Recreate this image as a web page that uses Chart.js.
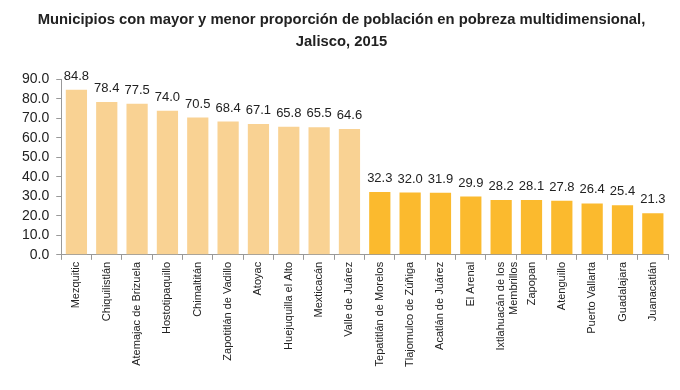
<!DOCTYPE html>
<html>
<head>
<meta charset="utf-8">
<script src="https://cdn.jsdelivr.net/npm/chart.js@4"></script>
<style>
  html, body { margin: 0; padding: 0; background: #fff; }
  #wrap { width: 680px; height: 390px; }
</style>
</head>
<body>
<div id="wrap"><canvas id="chart"></canvas></div>
<script>
// Municipalities with highest poverty share
const highNames = ['Mezquitic', 'Chiquilistlán', 'Atemajac de Brizuela', 'Hostotipaquillo', 'Chimaltitán',
    'Zapotitlán de Vadillo', 'Atoyac', 'Huejuquilla el Alto', 'Mexticacán', 'Valle de Juárez'];
const highValues = [84.8, 78.4, 77.5, 74.0, 70.5, 68.4, 67.1, 65.8, 65.5, 64.6];

// Municipalities with lowest poverty share
const lowNames = ['Tepatitlán de Morelos', 'Tlajomulco de Zúñiga', 'Acatlán de Juárez', 'El Arenal',
    ['Ixtlahuacán de los', 'Membrillos'], 'Zapopan', 'Atenguillo', 'Puerto Vallarta', 'Guadalajara', 'Juanacatlán'];
const lowValues = [32.3, 32.0, 31.9, 29.9, 28.2, 28.1, 27.8, 26.4, 25.4, 21.3];

const yTicks = [0, 10, 20, 30, 40, 50, 60, 70, 80, 90];

const highColor = '#F9D293';
const lowColor = '#FBBA2E';

const labels = highNames.concat(lowNames);
const values = highValues.concat(lowValues);
const colors = labels.map((l, i) => i < highNames.length ? highColor : lowColor);

// draws the value above each bar
const valueLabels = {
    id: 'valueLabels',
    afterDatasetsDraw(chart) {
        const ctx = chart.ctx;
        const meta = chart.getDatasetMeta(0);
        ctx.save();
        ctx.font = '13px "Liberation Sans", Arial, sans-serif';
        ctx.fillStyle = '#222';
        ctx.textAlign = 'center';
        ctx.textBaseline = 'bottom';
        meta.data.forEach((bar, i) => {
            ctx.fillText(values[i].toFixed(1), bar.x, bar.y - 7);
        });
        ctx.restore();
    }
};

new Chart(document.getElementById('chart'), {
    type: 'bar',
    data: {
        labels: labels,
        datasets: [{
            data: values,
            backgroundColor: colors,
            barPercentage: 0.7,
            categoryPercentage: 1.0
        }]
    },
    options: {
        responsive: true,
        maintainAspectRatio: false,
        animation: false,
        layout: { padding: { left: 15, right: 12, top: 0, bottom: 21 } },
        plugins: {
            legend: { display: false },
            tooltip: { enabled: false },
            title: {
                display: true,
                text: ['Municipios con mayor y menor proporción de población en pobreza multidimensional,', 'Jalisco, 2015'],
                font: { family: '"Liberation Sans", Arial, sans-serif', size: 14.8, weight: 'bold', lineHeight: 1.47 },
                color: '#222',
                padding: { top: 9, bottom: 27 }
            }
        },
        scales: {
            x: {
                grid: { offset: true, drawOnChartArea: false, tickLength: 5, color: '#999' },
                border: { color: '#999' },
                ticks: {
                    minRotation: 90, maxRotation: 90, autoSkip: false,
                    font: { family: '"Liberation Sans", Arial, sans-serif', size: 11 },
                    color: '#222', padding: 2
                }
            },
            y: {
                min: 0, max: 90,
                afterBuildTicks: axis => { axis.ticks = yTicks.map(v => ({ value: v })); },
                grid: { drawOnChartArea: false, tickLength: 5, color: '#999' },
                border: { color: '#999' },
                ticks: {
                    autoSkip: false,
                    callback: v => v.toFixed(1),
                    font: { family: '"Liberation Sans", Arial, sans-serif', size: 14 },
                    color: '#222', padding: 7
                }
            }
        }
    },
    plugins: [valueLabels]
});
</script>
</body>
</html>
